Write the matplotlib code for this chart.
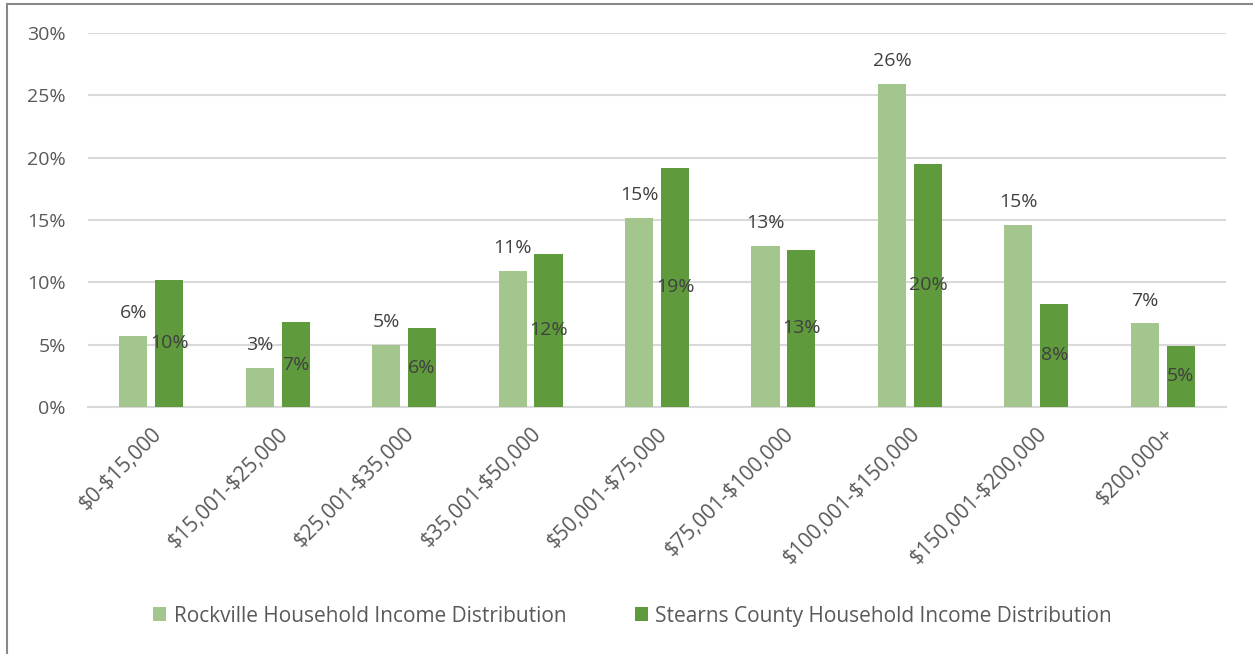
import matplotlib.pyplot as plt
import numpy as np
from matplotlib.patches import Rectangle

categories = ['$0-$15,000', '$15,001-$25,000', '$25,001-$35,000', '$35,001-$50,000',
              '$50,001-$75,000', '$75,001-$100,000', '$100,001-$150,000',
              '$150,001-$200,000', '$200,000+']
rockville = [5.7, 3.1, 5.0, 10.9, 15.2, 12.9, 25.9, 14.6, 6.7]
stearns = [10.2, 6.8, 6.3, 12.3, 19.2, 12.6, 19.5, 8.3, 4.9]
rockville_labels = ['6%', '3%', '5%', '11%', '15%', '13%', '26%', '15%', '7%']
stearns_labels = ['10%', '7%', '6%', '12%', '19%', '13%', '20%', '8%', '5%']

plt.rcParams['font.family'] = ['Open Sans', 'DejaVu Sans']

fig = plt.figure(figsize=(12.53, 6.54), dpi=100)
ax = fig.add_axes([0.0702, 0.3777, 0.9083, 0.5718])

x = np.arange(len(categories))
w = 0.222
off = 0.142
b1 = ax.bar(x - off, rockville, w, color='#A3C58E', label='Rockville Household Income Distribution', zorder=3)
b2 = ax.bar(x + off, stearns, w, color='#5F9A3D', label='Stearns County Household Income Distribution', zorder=3)

for rect, lab in zip(b1, rockville_labels):
    ax.annotate(lab, (rect.get_x() + rect.get_width() / 2, rect.get_height()),
                xytext=(0, 10), textcoords='offset points', ha='center', va='bottom',
                fontsize=14, color='#404040')
for rect, lab in zip(b2, stearns_labels):
    ax.text(rect.get_x() + rect.get_width() / 2, rect.get_height() / 2, lab,
            ha='center', va='center', fontsize=14, color='#404040', zorder=4)

ax.set_xlim(-0.5, len(categories) - 0.5)
ax.set_ylim(0, 30)
ax.set_yticks(range(0, 31, 5))
ax.set_yticklabels([f'{v}%' for v in range(0, 31, 5)])
ax.yaxis.grid(True, color='#D9D9D9', linewidth=1.5, zorder=0)
ax.set_xticks(x)
ax.set_xticklabels(categories, rotation=45, ha='right', rotation_mode='anchor',
                   parse_math=False)
ax.tick_params(axis='both', length=0, colors='#595959')
ax.tick_params(axis='x', pad=12, labelsize=15)
ax.tick_params(axis='y', pad=16, labelsize=14)
for s in ['top', 'right', 'left']:
    ax.spines[s].set_visible(False)
ax.spines['bottom'].set_color('#D9D9D9')
ax.spines['bottom'].set_linewidth(1.5)

fig.legend(handles=[b1, b2], loc='center', bbox_to_anchor=(0.505, 0.058), ncol=2,
           frameon=False, fontsize=15, labelcolor='#595959', handlelength=0.63,
           handleheight=0.63, handletextpad=0.35, columnspacing=3.3)

# chart frame (left and top edges visible)
fig.patches.append(Rectangle((7 / 1253, -0.1), 1.2, 1 - 4 / 654 + 0.1, transform=fig.transFigure,
                             fill=False, edgecolor='#898989', linewidth=1.5))

fig.savefig('out.png', dpi=100)
